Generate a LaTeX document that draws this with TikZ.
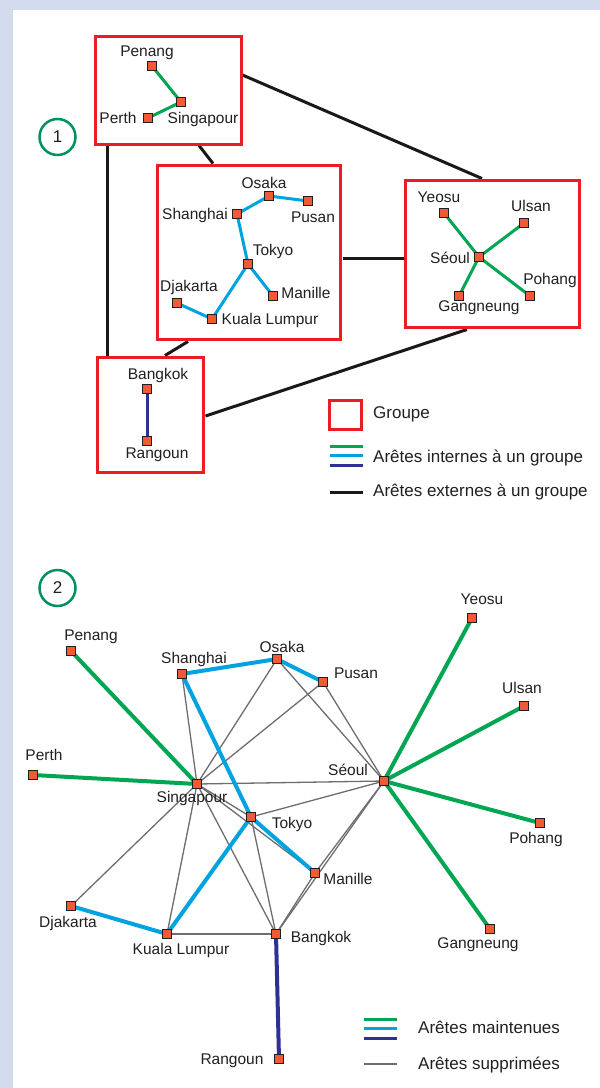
\documentclass[tikz,border=0pt]{standalone}
\usepackage{fontspec}
\setmainfont{Liberation Sans}
\usetikzlibrary{calc}
\definecolor{bgl}{HTML}{D5DBEE}
\definecolor{grpred}{HTML}{EC1C24}
\definecolor{egreen}{HTML}{00A651}
\definecolor{ecyan}{HTML}{00A3E0}
\definecolor{enavy}{HTML}{2E3192}
\definecolor{cityfill}{HTML}{F15A36}
\definecolor{txt}{HTML}{231F20}
\definecolor{egray}{HTML}{6D6E71}
\definecolor{cgreen}{HTML}{00915E}
\begin{document}
\begin{tikzpicture}[x=1pt,y=-1pt,
  city/.style={rectangle,draw=txt,fill=cityfill,minimum size=9pt,inner sep=0pt,line width=1.2pt},
  lab/.style={font=\fontsize{15.5}{18}\selectfont,text=txt,inner sep=0pt,text height=11pt,text depth=0pt},
  leglab/.style={font=\fontsize{17}{20}\selectfont,text=txt,inner sep=0pt,text height=12pt,text depth=0pt,anchor=west},
  grp/.style={draw=grpred,line width=3pt,inner sep=0pt,outer sep=0pt},
  ext/.style={draw=black!90,line width=3pt},
  ingreen/.style={draw=egreen,line width=3pt},
  incyan/.style={draw=ecyan,line width=3pt},
  innavy/.style={draw=enavy,line width=3pt},
  kgreen/.style={draw=egreen,line width=4pt},
  kcyan/.style={draw=ecyan,line width=4pt},
  knavy/.style={draw=enavy,line width=4pt},
  del/.style={draw=egray,line width=1.3pt},
  numc/.style={circle,draw=cgreen,line width=2.5pt,minimum size=36pt,inner sep=0pt,font=\fontsize{17}{20}\selectfont,text=txt}
]
\useasboundingbox (0,0) rectangle (600,1088);
\fill[bgl] (0,0) rectangle (600,1088);
\fill[white] (13,10) rectangle (600,1088);

% ---------------- Part 1 ----------------
\node[numc] (n1) at (57.5,137) {1};

% group boxes
\node[grp,minimum width=146pt,minimum height=108pt] (g1) at (168,90) {};
\node[grp,minimum width=183pt,minimum height=174pt] (g2) at (249,252.5) {};
\node[grp,minimum width=174pt,minimum height=147pt] (g3) at (492.5,254) {};
\node[grp,minimum width=106pt,minimum height=115pt] (g4) at (150.5,415) {};

% external edge end points
\coordinate (x1a) at (107,145.5);
\coordinate (x1b) at (107,355.5);
\coordinate (x2a) at (199,145.5);
\coordinate (x2b) at (213,163.5);
\coordinate (x3a) at (242.5,75);
\coordinate (x3b) at (482,178.5);
\coordinate (x4a) at (342.5,258);
\coordinate (x4b) at (403.5,258);
\coordinate (x5a) at (188,341.5);
\coordinate (x5b) at (165,355.5);
\coordinate (x6a) at (205.5,416);
\coordinate (x6b) at (467,329.5);
\draw[ext] (x1a) -- (x1b);
\draw[ext] (x2a) -- (x2b);
\draw[ext] (x3a) -- (x3b);
\draw[ext] (x4a) -- (x4b);
\draw[ext] (x5a) -- (x5b);
\draw[ext] (x6a) -- (x6b);

% redraw boxes above lines
\draw[grp] (g1.south west) rectangle (g1.north east);
\draw[grp] (g2.south west) rectangle (g2.north east);
\draw[grp] (g3.south west) rectangle (g3.north east);
\draw[grp] (g4.south west) rectangle (g4.north east);

% cities part 1
\coordinate (aPen) at (152,66);
\coordinate (aSin) at (181,102);
\coordinate (aPer) at (148,118);
\coordinate (aOsa) at (269,196);
\coordinate (aPus) at (308,201);
\coordinate (aSha) at (237,214);
\coordinate (aTok) at (248,264);
\coordinate (aMan) at (273,296);
\coordinate (aDja) at (177,303);
\coordinate (aKua) at (212,319);
\coordinate (aYeo) at (444,213);
\coordinate (aUls) at (524,223);
\coordinate (aSeo) at (479,257);
\coordinate (aPoh) at (530,296);
\coordinate (aGan) at (459,296);
\coordinate (aBan) at (147,389);
\coordinate (aRan) at (147,441);

\draw[ingreen] (aPen) -- (aSin) -- (aPer);
\draw[incyan] (aPus) -- (aOsa) -- (aSha) -- (aTok) -- (aMan);
\draw[incyan] (aTok) -- (aKua) -- (aDja);
\draw[ingreen] (aSeo) -- (aYeo);
\draw[ingreen] (aSeo) -- (aUls);
\draw[ingreen] (aSeo) -- (aPoh);
\draw[ingreen] (aSeo) -- (aGan);
\draw[innavy] (aBan) -- (aRan);

\foreach \c in {aPen,aSin,aPer,aOsa,aPus,aSha,aTok,aMan,aDja,aKua,aYeo,aUls,aSeo,aPoh,aGan,aBan,aRan}
  \node[city] (s\c) at (\c) {};

\node[lab] (lPen) at (147,51) {Penang};
\node[lab] (lSin) at (203,118) {Singapour};
\node[lab] (lPer) at (118,118) {Perth};
\node[lab] (lOsa) at (264,183) {Osaka};
\node[lab] (lPus) at (313,217) {Pusan};
\node[lab] (lSha) at (195,214) {Shanghai};
\node[lab] (lTok) at (273,250) {Tokyo};
\node[lab] (lMan) at (306,293) {Manille};
\node[lab] (lDja) at (189,286) {Djakarta};
\node[lab] (lKua) at (270,319) {Kuala Lumpur};
\node[lab] (lYeo) at (439,197) {Yeosu};
\node[lab] (lUls) at (531,206) {Ulsan};
\node[lab] (lSeo) at (450,258) {Séoul};
\node[lab] (lPoh) at (550,279) {Pohang};
\node[lab] (lGan) at (479,306) {Gangneung};
\node[lab] (lBan) at (158,374) {Bangkok};
\node[lab] (lRan) at (157,453) {Rangoun};

% legend 1
\node[grp,minimum width=32pt,minimum height=29pt] (lgbox) at (345.5,415) {};
\node[leglab] (lgt1) at (373,412) {Groupe};
\coordinate (lga1) at (330,446); \coordinate (lgb1) at (363,446);
\coordinate (lga2) at (330,455.5); \coordinate (lgb2) at (363,455.5);
\coordinate (lga3) at (330,465); \coordinate (lgb3) at (363,465);
\coordinate (lga4) at (330,492); \coordinate (lgb4) at (363,492);
\draw[ingreen] (lga1) -- (lgb1);
\draw[incyan] (lga2) -- (lgb2);
\draw[innavy] (lga3) -- (lgb3);
\draw[ext] (lga4) -- (lgb4);
\node[leglab] (lgt2) at (373,456) {Arêtes internes à un groupe};
\node[leglab] (lgt3) at (373,490) {Arêtes externes à un groupe};

% ---------------- Part 2 ----------------
\node[numc] (n2) at (57.5,588) {2};

\coordinate (bPen) at (71,651);
\coordinate (bPer) at (33,775);
\coordinate (bSin) at (197,784);
\coordinate (bSha) at (182,674);
\coordinate (bOsa) at (277,659);
\coordinate (bPus) at (323,682);
\coordinate (bSeo) at (384,781);
\coordinate (bTok) at (251,817);
\coordinate (bMan) at (315,873);
\coordinate (bDja) at (71,906);
\coordinate (bKua) at (167,934);
\coordinate (bBan) at (276,934);
\coordinate (bRan) at (279,1059);
\coordinate (bYeo) at (472,618);
\coordinate (bUls) at (524,706);
\coordinate (bPoh) at (540,823);
\coordinate (bGan) at (490,929);

% deleted edges
\draw[del] (bSha) -- (bSin);
\draw[del] (bOsa) -- (bSin);
\draw[del] (bPus) -- (bSin);
\draw[del] (bOsa) -- (bSeo);
\draw[del] (bPus) -- (bSeo);
\draw[del] (bSin) -- (bSeo);
\draw[del] (bTok) -- (bSeo);
\draw[del] (bSin) -- (bTok);
\draw[del] (bSin) -- (bMan);
\draw[del] (bSin) -- (bDja);
\draw[del] (bSin) -- (bKua);
\draw[del] (bSin) -- (bBan);
\draw[del] (bTok) -- (bBan);
\draw[del] (bKua) -- (bBan);
\draw[del] (bBan) -- (bSeo);
\draw[del] (bMan) -- (bSeo);
\draw[del] (bBan) -- (bMan);

% kept edges
\draw[kgreen] (bPen) -- (bSin) -- (bPer);
\draw[kcyan] (bPus) -- (bOsa) -- (bSha) -- (bTok) -- (bMan);
\draw[kcyan] (bTok) -- (bKua) -- (bDja);
\draw[kgreen] (bSeo) -- (bYeo);
\draw[kgreen] (bSeo) -- (bUls);
\draw[kgreen] (bSeo) -- (bPoh);
\draw[kgreen] (bSeo) -- (bGan);
\draw[knavy] (bBan) -- (bRan);

\foreach \c in {bPen,bPer,bSin,bSha,bOsa,bPus,bSeo,bTok,bMan,bDja,bKua,bBan,bRan,bYeo,bUls,bPoh,bGan}
  \node[city] (s\c) at (\c) {};

\node[lab] (mPen) at (91,635) {Penang};
\node[lab] (mPer) at (44,755) {Perth};
\node[lab] (mSha) at (194,658) {Shanghai};
\node[lab] (mOsa) at (282,647) {Osaka};
\node[lab] (mPus) at (356,673) {Pusan};
\node[lab] (mSin) at (192,797) {Singapour};
\node[lab] (mSeo) at (348,770) {Séoul};
\node[lab] (mTok) at (292,823) {Tokyo};
\node[lab] (mMan) at (348,879) {Manille};
\node[lab] (mBan) at (321,937) {Bangkok};
\node[lab] (mKua) at (181,949) {Kuala Lumpur};
\node[lab] (mDja) at (68,922) {Djakarta};
\node[lab] (mRan) at (232,1059) {Rangoun};
\node[lab] (mYeo) at (482,599) {Yeosu};
\node[lab] (mUls) at (522,688) {Ulsan};
\node[lab] (mPoh) at (536,838) {Pohang};
\node[lab] (mGan) at (478,943) {Gangneung};

% legend 2
\coordinate (lma1) at (364,1019); \coordinate (lmb1) at (397,1019);
\coordinate (lma2) at (364,1028); \coordinate (lmb2) at (397,1028);
\coordinate (lma3) at (364,1038); \coordinate (lmb3) at (397,1038);
\coordinate (lma4) at (364,1064); \coordinate (lmb4) at (397,1064);
\draw[ingreen] (lma1) -- (lmb1);
\draw[incyan] (lma2) -- (lmb2);
\draw[innavy] (lma3) -- (lmb3);
\draw[del] (lma4) -- (lmb4);
\node[leglab] (lmt1) at (418,1027) {Arêtes maintenues};
\node[leglab] (lmt2) at (418,1063) {Arêtes supprimées};
\end{tikzpicture}
\end{document}
